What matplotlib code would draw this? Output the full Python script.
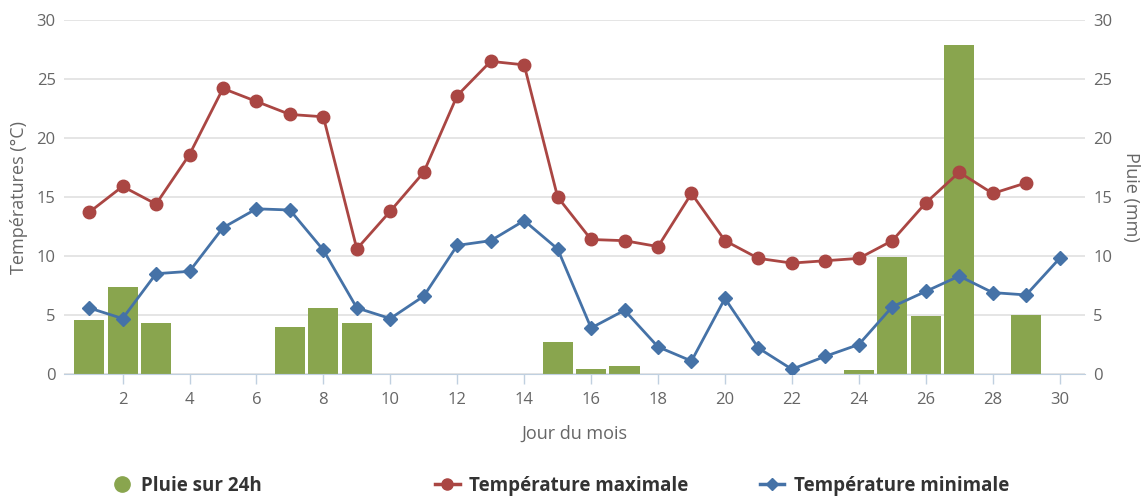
import numpy as np
import matplotlib.pyplot as plt
from matplotlib.lines import Line2D

plt.rcParams['font.family'] = ['Open Sans', 'DejaVu Sans']

# Données (jour du mois)
jours = list(range(1, 31))
temp_max = [13.7, 15.9, 14.4, 18.6, 24.2, 23.1, 22.0, 21.8, 10.6, 13.8,
            17.1, 23.6, 26.5, 26.2, 15.0, 11.4, 11.3, 10.8, 15.3, 11.3,
            9.8, 9.4, 9.6, 9.8, 11.3, 14.5, 17.1, 15.3, 16.2, np.nan]
temp_min = [5.6, 4.7, 8.5, 8.7, 12.4, 14.0, 13.9, 10.5, 5.6, 4.7,
            6.6, 10.9, 11.3, 13.0, 10.6, 3.9, 5.4, 2.3, 1.1, 6.4,
            2.2, 0.4, 1.5, 2.5, 5.7, 7.0, 8.3, 6.9, 6.7, 9.8]
pluie = [4.6, 7.4, 4.3, 0, 0, 0, 4.0, 5.6, 4.3, 0,
         0, 0, 0, 0, 2.7, 0.4, 0.7, 0, 0, 0,
         0, 0, 0, 0.3, 9.9, 4.9, 27.9, 0, 5.0, 0]

c_max = '#AA4643'
c_min = '#4572A7'
c_pluie = '#89A54E'
c_txt = '#666666'

fig = plt.figure(figsize=(11.43, 5.01), dpi=100)
ax = fig.add_axes([0.056, 0.2535, 0.893, 0.7065])
ax_r = ax.twinx()

# pluie sur l'axe de droite, derrière les courbes
ax_r.bar(jours, pluie, width=0.9, color=c_pluie, zorder=2)
ax.set_zorder(ax_r.get_zorder() + 1)
ax.patch.set_visible(False)

ax.plot(jours, temp_max, '-o', color=c_max, lw=2, ms=9, zorder=3)
ax.plot(jours, temp_min, '-D', color=c_min, lw=2, ms=7, zorder=3)

for a in (ax, ax_r):
    a.set_ylim(0, 30)
    a.set_xlim(0.25, 30.75)
    a.set_yticks(range(0, 31, 5))
    for s in a.spines.values():
        s.set_visible(False)
    a.tick_params(axis='y', length=0, labelsize=12, colors=c_txt, pad=6)

ax.spines['bottom'].set_visible(True)
ax.spines['bottom'].set_color('#C0D0E0')
ax.set_xticks(range(2, 31, 2))
ax.set_xticks(range(1, 31), minor=True)
ax.tick_params(axis='x', length=7, width=1, color='#C0D0E0', labelcolor=c_txt,
               labelsize=12, pad=6)
ax.tick_params(axis='x', which='minor', length=0)

# grille sur l'axe du fond
ax_r.tick_params(axis='x', which='both', length=0, labelbottom=False)
ax_r.grid(True, axis='y', color='#E3E3E3', lw=1.3)
ax_r.grid(True, axis='x', which='minor', color='#E8EBF1', lw=1.2)
ax_r.set_axisbelow(True)

ax.set_ylabel('Températures (°C)', fontsize=13, color=c_txt, labelpad=6)
ax_r.set_ylabel('Pluie (mm)', fontsize=13, color=c_txt, rotation=270, labelpad=20)
ax.set_xlabel('Jour du mois', fontsize=13, color=c_txt, labelpad=12)

# légende en bas
items = [
    (Line2D([], [], ls='none', marker='o', ms=11, color=c_pluie), 'Pluie sur 24h', 0.084, 1.0),
    (Line2D([], [], ls='-', lw=2.5, marker='o', ms=8, color=c_max), 'Température maximale', 0.366, 1.3),
    (Line2D([], [], ls='-', lw=2.5, marker='D', ms=6, color=c_min), 'Température minimale', 0.650, 1.3),
]
for h, lab, xpos, hl in items:
    leg = fig.legend([h], [lab], loc='center left', bbox_to_anchor=(xpos, 0.03),
                     frameon=False, handlelength=hl, handletextpad=0.5,
                     prop={'size': 13.5, 'weight': 'bold'})
    for t in leg.get_texts():
        t.set_color('#333333')

plt.savefig('out.png', dpi=100)
